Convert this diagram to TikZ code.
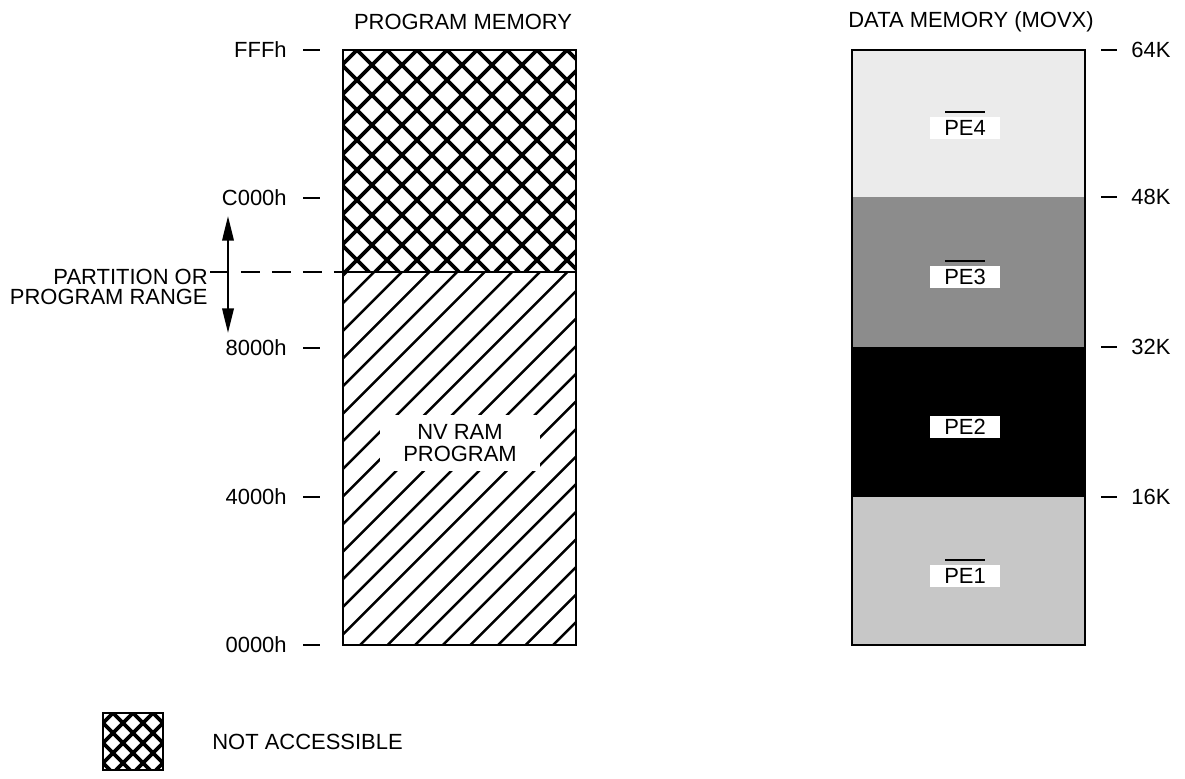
\documentclass[tikz,border=0pt]{standalone}
\usepackage{fontspec}
\setmainfont{Liberation Sans}
\usetikzlibrary{arrows.meta}
\begin{document}
\begin{tikzpicture}[x=.02cm,y=-.02cm,
  lbl/.style={font=\fontsize{12.5}{13}\selectfont,inner sep=0pt},
  pelbl/.style={lbl,fill=white,inner xsep=8pt,inner ysep=1.5pt,text height=9pt,text depth=0pt},
  xhatch/.style={line width=2.1pt}, dhatch/.style={line width=1.4pt}, edge/.style={line width=1.2pt}]
  \useasboundingbox (0,0) rectangle (1185,778);
  \node[lbl] (pmt) at (463,22) {PROGRAM MEMORY}; \node[lbl] (dmt) at (971,22) {DATA MEMORY (MOVX)};
  % program memory
  \begin{scope} \clip (343,50) rectangle (576,272);
    \foreach \c in {377,407,...,857} \draw[xhatch] (\c-272,272) -- ++(222,-222);
    \foreach \c in {67,97,...,547} \draw[xhatch] (\c+50,50) -- ++(222,222);
  \end{scope}
  \begin{scope} \clip (343,272) rectangle (576,645);
    \foreach \k in {-14,...,8} \draw[dhatch] (1005+27.6*\k-645,645) -- ++(373,-373);
  \end{scope}
  \draw[line width=.6pt] (343,272) -- (576,272); \draw[edge] (343,50) rectangle (576,645);
  \node[lbl,fill=white,align=center,inner xsep=13pt,inner ysep=5pt] (nvram) at (460,443) {NV RAM\\PROGRAM};
  \foreach \y/\t in {50/FFFh,198/C000h,348/8000h,497/4000h,645/0000h} {\draw[edge] (303,\y)--(320,\y); \node[lbl,anchor=east] (pa\y) at (287,\y) {\t};}
  \node[lbl,font=\fontsize{12.5}{11.5}\selectfont,align=right,anchor=east] (part) at (208,287) {PARTITION OR\\PROGRAM RANGE};
  \coordinate (pl) at (210,272); \coordinate (pr) at (343,272); \coordinate (rt) at (228,216); \coordinate (rb) at (228,333);
  \draw[line width=.8pt,dash pattern=on .38cm off .24cm] (pl) -- (pr);
  \draw[{Triangle[length=14pt,width=6.5pt]}-{Triangle[length=14pt,width=6.5pt]},line width=1.2pt] (rt) -- (rb);
  % data memory
  \fill[black!8] (852,50) rectangle (1085,197); \fill[black!45] (852,197) rectangle (1085,347);
  \fill[black] (852,347) rectangle (1085,497); \fill[black!22] (852,497) rectangle (1085,645);
  \draw[edge] (852,50) rectangle (1085,645);
  \foreach \n/\y in {4/123,3/272,2/422,1/571} {\node[pelbl] (pe\n) at (965,\y+5) {PE\n}; \draw[line width=.8pt] ([shift={(-20,-5)}]pe\n.north) -- ++(40,0);}
  \foreach \y/\t in {50/64K,197/48K,347/32K,497/16K} {\draw[edge] (1101,\y)--(1117,\y); \node[lbl,anchor=west] (dk\t) at (1131,\y) {\t};}
  % legend
  \begin{scope} \clip (103,713) rectangle (163,770);
    \foreach \c in {806,826,...,946} \draw[xhatch] (\c-770,770) -- ++(57,-57);
    \foreach \c in {-680,-660,...,-540} \draw[xhatch] (\c+713,713) -- ++(57,57);
  \end{scope}
  \draw[edge] (103,713) rectangle (163,770); \node[lbl,anchor=west] (nacc) at (212,742) {NOT ACCESSIBLE};
\end{tikzpicture}
\end{document}
